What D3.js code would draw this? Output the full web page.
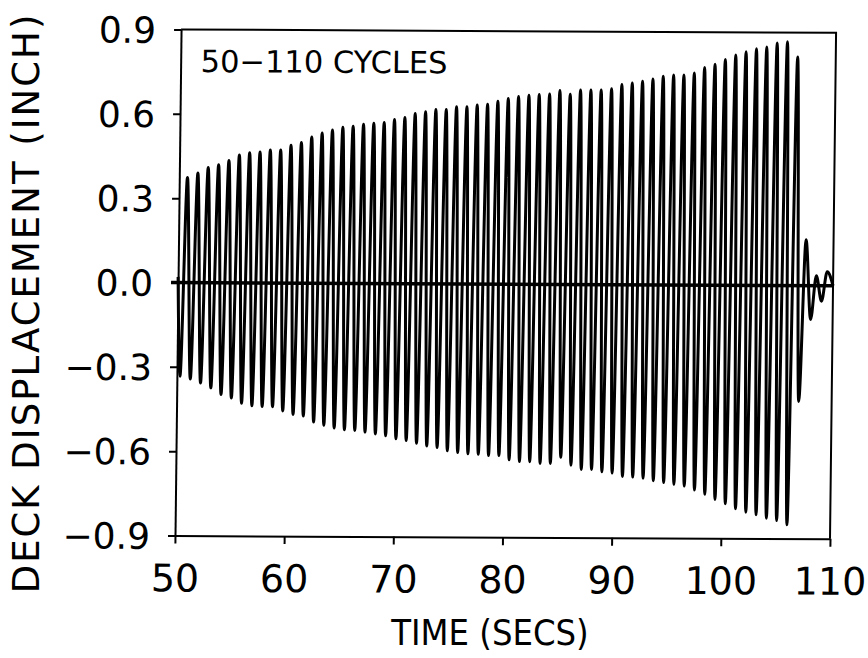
<!DOCTYPE html>
<html lang="en">
<head>
<meta charset="UTF-8">
<title>Deck Displacement 50-110 Cycles</title>
<script src="https://d3js.org/d3.v7.min.js"></script>
<style>
  body { margin: 0; background: #fff; }
  svg { display: block; background: #fff; }
  text { font-family: "DejaVu Sans", sans-serif; fill: #000; }
  .axis .domain { stroke: #000; stroke-width: 2px; }
  .axis .tick line { stroke: #000; stroke-width: 2px; }
  .axis text { font-family: "DejaVu Sans", sans-serif; }
  .trace { fill: none; stroke: #000; stroke-width: 3px; stroke-linejoin: round; }
</style>
</head>
<body>
<div id="chart"></div>
<script>
// turning points of the record (secs, inch)
const leadTimes = [50.0];
const leadValues = [0.02];

const troughTimes = [
  50.28, 51.23, 52.17, 53.12, 54.06, 55.01, 55.95, 56.90, 57.84, 58.79,
  59.73, 60.68, 61.62, 62.57, 63.51, 64.46, 65.40, 66.35, 67.29, 68.24,
  69.18, 70.13, 71.07, 72.02, 72.96, 73.91, 74.85, 75.80, 76.74, 77.69,
  78.63, 79.58, 80.52, 81.47, 82.41, 83.36, 84.30, 85.25, 86.19, 87.14,
  88.08, 89.03, 89.97, 90.92, 91.86, 92.81, 93.75, 94.70, 95.64, 96.59,
  97.53, 98.48, 99.42, 100.37, 101.31, 102.26, 103.20, 104.15, 105.09, 106.04,
  106.98
];
const troughValues = [
  -0.333, -0.343, -0.357, -0.374, -0.398, -0.410, -0.428, -0.437, -0.440, -0.440,
  -0.455, -0.467, -0.473, -0.494, -0.505, -0.515, -0.521, -0.523, -0.529, -0.535,
  -0.541, -0.552, -0.558, -0.568, -0.577, -0.582, -0.594, -0.600, -0.604, -0.606,
  -0.610, -0.610, -0.625, -0.631, -0.631, -0.637, -0.637, -0.615, -0.643, -0.658,
  -0.658, -0.666, -0.670, -0.682, -0.684, -0.688, -0.697, -0.703, -0.709, -0.715,
  -0.729, -0.744, -0.762, -0.777, -0.795, -0.807, -0.816, -0.828, -0.836, -0.851,
  -0.412
];

const peakTimes = [
  50.75, 51.70, 52.64, 53.59, 54.53, 55.48, 56.42, 57.37, 58.31, 59.26,
  60.20, 61.15, 62.09, 63.04, 63.98, 64.93, 65.87, 66.82, 67.76, 68.71,
  69.65, 70.60, 71.54, 72.49, 73.43, 74.38, 75.32, 76.27, 77.21, 78.16,
  79.10, 80.05, 80.99, 81.94, 82.88, 83.83, 84.77, 85.72, 86.66, 87.61,
  88.55, 89.50, 90.44, 91.39, 92.33, 93.28, 94.22, 95.17, 96.11, 97.06,
  98.00, 98.95, 99.89, 100.84, 101.78, 102.73, 103.67, 104.62, 105.56, 106.51
];
const peakValues = [
  0.374, 0.390, 0.410, 0.420, 0.435, 0.455, 0.463, 0.466, 0.473, 0.473,
  0.490, 0.500, 0.520, 0.534, 0.545, 0.555, 0.559, 0.566, 0.570, 0.573,
  0.584, 0.591, 0.605, 0.612, 0.620, 0.620, 0.630, 0.630, 0.637, 0.640,
  0.650, 0.660, 0.668, 0.672, 0.675, 0.677, 0.690, 0.677, 0.692, 0.692,
  0.692, 0.697, 0.712, 0.718, 0.724, 0.732, 0.742, 0.747, 0.747, 0.754,
  0.774, 0.786, 0.803, 0.819, 0.831, 0.842, 0.848, 0.863, 0.867, 0.813
];

// free decay after the last big cycle
const tailTimes = [107.48, 107.98, 108.46, 108.96, 109.45, 110.0];
const tailValues = [0.163, -0.120, 0.035, -0.055, 0.050, 0.0];

const xTicks = [50, 60, 70, 80, 90, 100, 110];
const yTicks = [-0.9, -0.6, -0.3, 0.0, 0.3, 0.6, 0.9];

// stitch the turning points into one record
const record = [];
leadTimes.forEach((t, i) => record.push({ t: t, v: leadValues[i] }));
troughTimes.forEach((t, i) => {
  record.push({ t: t, v: troughValues[i] });
  if (i < peakTimes.length) record.push({ t: peakTimes[i], v: peakValues[i] });
});
tailTimes.forEach((t, i) => record.push({ t: t, v: tailValues[i] }));

const width = 868, height = 658;
const plotLeft = 175, plotRight = 830, plotTop = 29.5, plotBottom = 535.5;

const x = d3.scaleLinear().domain([50, 110]).range([plotLeft, plotRight]);
const y = d3.scaleLinear().domain([-0.9, 0.9]).range([plotBottom, plotTop]);

const svg = d3.select('#chart').append('svg')
  .attr('width', width)
  .attr('height', height);

// the scanned sheet is a little sheared, so the frame leans
const kx = 0.012, ky = 0.005;
const g = svg.append('g')
  .attr('transform', `matrix(1,${ky},${-kx},1,${kx * plotBottom},${-ky * plotLeft})`);

const fmt = d => d.toFixed(1).replace('-', '\u2212');

g.append('g')
  .attr('class', 'axis')
  .attr('transform', `translate(${plotLeft},0)`)
  .call(d3.axisLeft(y).tickValues(yTicks).tickSize(7).tickSizeOuter(0).tickPadding(18).tickFormat(fmt))
  .call(a => a.selectAll('text').attr('font-size', 36).attr('dy', '0.36em'));

g.append('g')
  .attr('class', 'axis')
  .attr('transform', `translate(0,${plotBottom})`)
  .call(d3.axisBottom(x).tickValues(xTicks).tickSize(8).tickSizeOuter(0).tickPadding(21).tickFormat(d3.format('d')))
  .call(a => a.selectAll('text').attr('font-size', 38));

// top and right sides of the frame
g.append('path')
  .attr('d', `M${x(50)},${y(0.9)}H${x(110)}V${y(-0.9)}`)
  .attr('fill', 'none')
  .attr('stroke', '#000')
  .attr('stroke-width', 2);

// zero line
g.append('line')
  .attr('x1', x(50) - 7).attr('x2', x(110))
  .attr('y1', y(0)).attr('y2', y(0))
  .attr('stroke', '#000')
  .attr('stroke-width', 3.5);

const line = d3.line()
  .x(d => x(d.t))
  .y(d => y(d.v))
  .curve(d3.curveMonotoneX);

g.append('path')
  .datum(record)
  .attr('class', 'trace')
  .attr('d', line);

g.append('text')
  .attr('x', 195)
  .attr('y', 72)
  .attr('font-size', 30.5)
  .text('50\u2212110 CYCLES');

svg.append('text')
  .attr('x', 490)
  .attr('y', 645)
  .attr('text-anchor', 'middle')
  .attr('font-size', 36)
  .style('font-family', '"DejaVu Sans Condensed", "DejaVu Sans", sans-serif')
  .style('font-stretch', 'condensed')
  .text('TIME (SECS)');

svg.append('text')
  .attr('transform', 'translate(39,303) rotate(-90)')
  .attr('text-anchor', 'middle')
  .attr('font-size', 37)
  .attr('letter-spacing', 2)
  .text('DECK DISPLACEMENT (INCH)');
</script>
</body>
</html>
